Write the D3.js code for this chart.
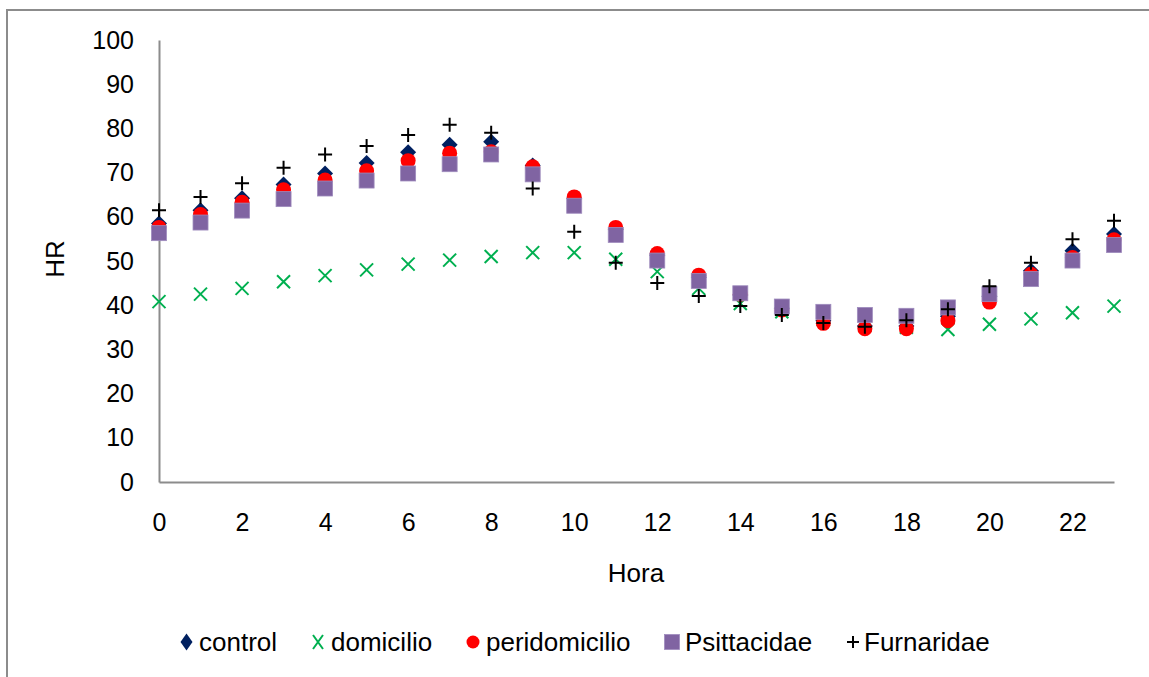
<!DOCTYPE html>
<html>
<head>
<meta charset="utf-8">
<script src="https://cdn.jsdelivr.net/npm/d3@7"></script>
<style>
  html, body { margin: 0; padding: 0; background: #fff; }
  svg { display: block; font-family: "Liberation Sans", Arial, sans-serif; }
</style>
</head>
<body>
<script>
// Hourly HR (%) readings per site / group
const horas = [0, 1, 2, 3, 4, 5, 6, 7, 8, 9, 10, 11, 12, 13, 14, 15, 16, 17, 18, 19, 20, 21, 22, 23];
const control = [58.5, 61.5, 64.2, 67.3, 69.8, 72.2, 74.6, 76.3, 77.0, 71.6, 64.2, 57.2, 51.3, 46.3, 42.3, 39.3, 36.5, 35.3, 35.3, 37.5, 42.0, 47.8, 52.3, 56.1];
const domicilio = [40.8, 42.5, 43.8, 45.3, 46.7, 48.0, 49.3, 50.2, 51.0, 51.9, 51.9, 50.4, 47.6, 43.8, 40.4, 38.5, 36.8, 35.5, 35.0, 34.5, 35.7, 36.9, 38.3, 39.8];
const peridomicilio = [57.6, 60.5, 63.3, 66.1, 68.3, 70.4, 72.7, 74.4, 74.7, 71.3, 64.5, 57.6, 51.7, 46.8, 42.5, 38.9, 35.9, 34.7, 34.7, 36.5, 40.7, 47.0, 50.8, 54.8];
const psittacidae = [56.3, 58.7, 61.4, 64.0, 66.4, 68.2, 69.8, 71.9, 74.1, 69.6, 62.5, 55.9, 50.1, 45.5, 42.7, 39.7, 38.5, 37.8, 37.6, 39.5, 42.5, 45.9, 50.1, 53.6];
const furnaridae = [61.5, 64.5, 67.6, 71.1, 74.1, 76.0, 78.5, 80.8, 79.0, 66.4, 56.6, 49.6, 45.0, 42.1, 39.8, 37.8, 36.0, 35.1, 36.6, 39.1, 44.3, 49.6, 54.9, 59.1];

const xTicks = [0, 2, 4, 6, 8, 10, 12, 14, 16, 18, 20, 22];
const yTicks = [0, 10, 20, 30, 40, 50, 60, 70, 80, 90, 100];

const series = [
  { name: "control", values: control, shape: "diamond", color: "#002060" },
  { name: "domicilio", values: domicilio, shape: "x", color: "#00B050" },
  { name: "peridomicilio", values: peridomicilio, shape: "circle", color: "#FF0000" },
  { name: "Psittacidae", values: psittacidae, shape: "square", color: "#8064A2" },
  { name: "Furnaridae", values: furnaridae, shape: "plus", color: "#000000" }
];

const W = 1149, H = 677;
const plot = { left: 159, right: 1114, top: 40, bottom: 482 };

const svg = d3.select("body").append("svg").attr("width", W).attr("height", H);

// chart frame (open on the right and bottom edges)
svg.append("rect")
  .attr("x", 7).attr("y", 10).attr("width", W + 20).attr("height", H + 20)
  .attr("fill", "none").attr("stroke", "#8c8c8c").attr("stroke-width", 2);

const x = d3.scaleLinear().domain([0, 23]).range([plot.left, plot.right]);
const y = d3.scaleLinear().domain([0, 100]).range([plot.bottom, plot.top]);

const tickFont = 25;
const labelFont = 26;

// axes
const xAxis = svg.append("g").attr("transform", `translate(0,${plot.bottom})`)
  .call(d3.axisBottom(x).tickValues(xTicks).tickSize(0).tickPadding(31).tickFormat(d3.format("d")));
const yAxis = svg.append("g").attr("transform", `translate(${plot.left},0)`)
  .call(d3.axisLeft(y).tickValues(yTicks).tickSize(0).tickPadding(25).tickFormat(d3.format("d")));

[xAxis, yAxis].forEach(g => {
  g.select(".domain").attr("stroke", "#8c8c8c").attr("stroke-width", 2);
  g.selectAll("text").attr("font-size", tickFont).attr("fill", "#000")
    .attr("font-family", "'Liberation Sans', Arial, sans-serif");
});

// axis titles
svg.append("text").attr("x", 636).attr("y", 582).attr("text-anchor", "middle")
  .attr("font-size", labelFont).text("Hora");
svg.append("text").attr("transform", "translate(64,259) rotate(-90)")
  .attr("text-anchor", "middle").attr("font-size", labelFont).text("HR");

// marker drawing
function marker(g, shape, color, s) {
  if (shape === "diamond") {
    g.append("path").attr("d", `M0,${-s.h}L${s.w},0L0,${s.h}L${-s.w},0Z`).attr("fill", color);
  } else if (shape === "circle") {
    g.append("circle").attr("r", s.r).attr("fill", color);
  } else if (shape === "square") {
    g.append("rect").attr("x", -s.q).attr("y", -s.q).attr("width", 2 * s.q).attr("height", 2 * s.q)
      .attr("fill", color).attr("stroke", "#9e8bbd").attr("stroke-width", 0.8);
  } else if (shape === "x") {
    g.append("path").attr("d", `M${-s.c},${-s.cy}L${s.c},${s.cy}M${-s.c},${s.cy}L${s.c},${-s.cy}`)
      .attr("stroke", color).attr("stroke-width", 2).attr("fill", "none");
  } else if (shape === "plus") {
    g.append("path").attr("d", `M${-s.p},0L${s.p},0M0,${-s.p}L0,${s.p}`)
      .attr("stroke", color).attr("stroke-width", 2).attr("fill", "none");
  }
}

const plotSize = { w: 8, h: 8, r: 7.5, q: 7.5, c: 6.5, cy: 6.5, p: 7 };

series.forEach(sr => {
  const g = svg.append("g").attr("class", "series");
  g.selectAll("g.pt").data(horas.map((h, i) => ({ h, v: sr.values[i] })))
    .enter().append("g").attr("class", "pt")
    .attr("transform", d => `translate(${x(d.h)},${y(d.v)})`)
    .each(function () { marker(d3.select(this), sr.shape, sr.color, plotSize); });
});

// legend
const legendItems = [
  { m: 186.5, t: 199 },
  { m: 318, t: 331 },
  { m: 473, t: 486 },
  { m: 672, t: 685 },
  { m: 853, t: 864 }
];
const legendSize = { w: 6, h: 8.5, r: 6.5, q: 7.5, c: 5, cy: 7, p: 6 };
const ly = 642;
series.forEach((sr, i) => {
  const g = svg.append("g").attr("transform", `translate(${legendItems[i].m},${ly})`);
  marker(g, sr.shape, sr.color, legendSize);
  svg.append("text").attr("x", legendItems[i].t).attr("y", ly).attr("dy", "0.35em")
    .attr("font-size", labelFont).text(sr.name);
});
</script>
</body>
</html>
